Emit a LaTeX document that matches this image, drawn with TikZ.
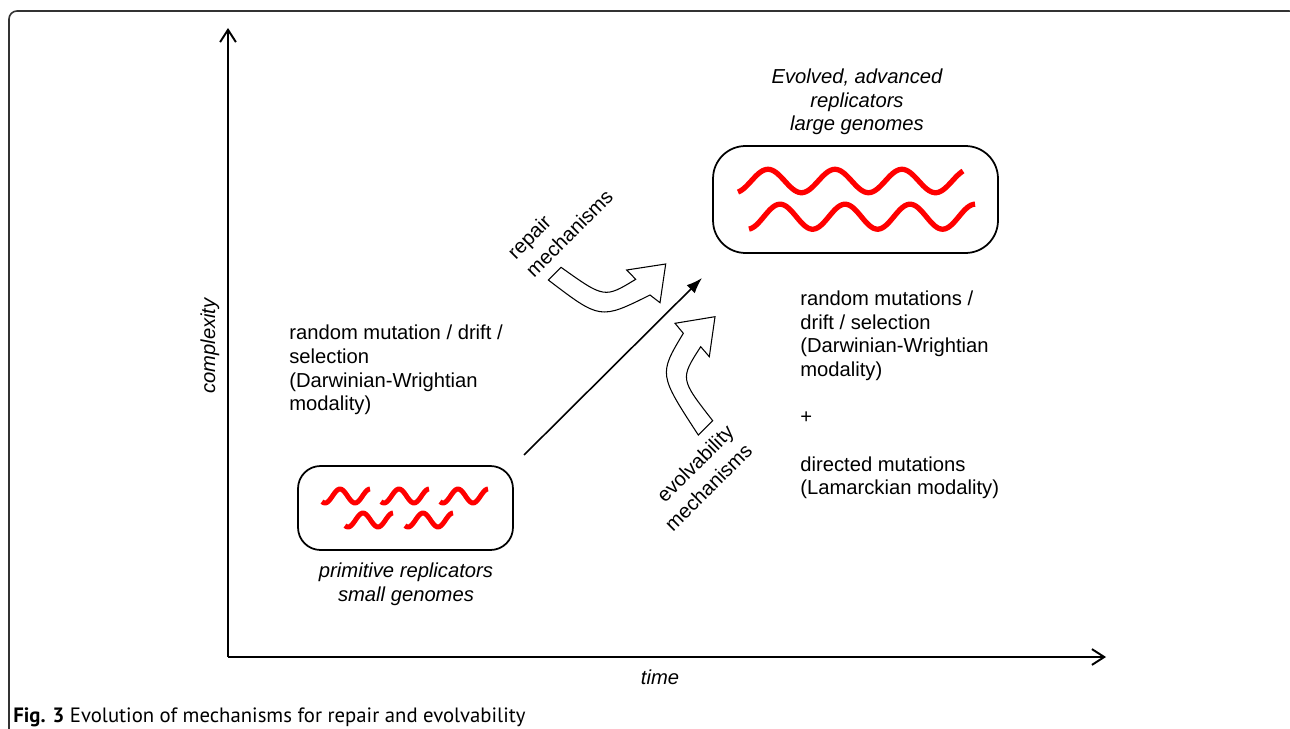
\documentclass[tikz,border=0pt]{standalone}
\usepackage{fontspec}
\setmainfont{Liberation Sans}
\newfontfamily\capfont{PT Sans}
\usetikzlibrary{arrows.meta}

\tikzset{
  axis/.style={line width=1.1pt,-{Straight Barb[length=7pt,width=9pt]}},
  growth/.style={line width=0.9pt,-{Latex[length=9pt,width=6.5pt]}},
  cellbox/.style={draw,line width=1pt,rounded corners=#1},
  wave/.style={draw=red,line width=2.8pt},
  bentarrow/.style={draw,line width=0.6pt,fill=white,line join=miter},
  lbl/.style={font=\fontsize{11.5}{13.45}\selectfont,inner sep=0pt,align=left},
  slant/.style={font=\fontsize{11.5}{14.8}\selectfont,inner sep=0pt,rotate=45},
  tag/.style={font=\fontsize{11.5}{13.45}\selectfont\itshape,inner sep=0pt,align=center}
}

\newcommand{\smallwave}[2]{\draw[wave] plot[domain=-126:450,samples=40,smooth] ({#1+(\x+126)/12},{#2-7*sin(\x)});}

\begin{document}
\begin{tikzpicture}[x=0.02cm,y=-0.02cm]
   \useasboundingbox (0,0) rectangle (1290,729);
   % outer frame
   \draw[black!80,line width=0.9pt,rounded corners=0.16cm] (9,760) -- (9,11) -- (1297,11) -- (1297,760);

   % axes
   \coordinate (origin) at (228,657);
   \coordinate (ytop) at (228,28);
   \coordinate (xend) at (1106,657);
   \draw[axis] (origin) -- (ytop);
   \draw[axis] (origin) -- (xend);
   \node[tag,rotate=90] (ylab) at (210,346) {complexity};
   \node[tag] (xlab) at (660,677) {time};

   % primitive replicators
   \node[cellbox=0.45cm,minimum width=4.3cm,minimum height=1.68cm] (small) at (405.5,508) {};
   \smallwave{322}{496}
   \smallwave{381}{496}
   \smallwave{440}{496}
   \smallwave{345}{520}
   \smallwave{405}{520}
   \node[tag] (smalllab) at (406,584) {primitive replicators\\small genomes};

   % advanced replicators
   \node[cellbox=0.65cm,minimum width=5.7cm,minimum height=2.14cm] (big) at (855.5,199.5) {};
   \draw[wave,line width=3pt] plot[domain=-71:1138,samples=120,smooth] ({738+(\x+71)/360*67},{181-11.7*sin(\x)});
   \draw[wave,line width=3pt] plot[domain=-82:1170,samples=120,smooth] ({749+(\x+82)/360*65},{216.7-12.5*sin(\x)});
   \node[tag] (biglab) at (857,102) {Evolved, advanced\\replicators\\large genomes};

   % progression
   \coordinate (dstart) at (524,455);
   \coordinate (dend) at (702,278);
   \draw[growth] (dstart) -- (dend);

   % repair mechanisms
   \draw[bentarrow] (561,267.3) .. controls (604.5,298.3) .. (635.7,279.3) -- (626.7,270)
     -- (665.7,264) -- (660,302.7) -- (650,295) .. controls (600.3,319.7) .. (548.3,280) -- cycle;
   \node[slant,align=left] (repair) at (560,224) {repair\\mechanisms};

   % evolvability mechanisms
   \draw[bentarrow] (698.3,435) .. controls (658.7,374.3) .. (683.3,333.3) -- (675,323.3)
     -- (715,316.7) -- (709.3,356.7) -- (700.7,346.7) .. controls (680,378.8) .. (712.7,420.7) -- cycle;
   \node[slant,align=right] (evolv) at (699,478) {evolvability\\mechanisms};

   % modalities
   \node[lbl,anchor=west] (before) at (289,370) {random mutation / drift /\\selection\\(Darwinian-Wrightian\\modality)};
   \node[lbl,anchor=west] (after) at (800,395) {random mutations /\\drift / selection\\(Darwinian-Wrightian\\modality)\\[\baselineskip]+\\[\baselineskip]directed mutations\\(Lamarckian modality)};

   % caption
   \node[anchor=west,inner sep=0pt,font=\capfont\fontsize{11.8}{14}\selectfont] (caption) at (13,717) {\textbf{Fig. 3} Evolution of mechanisms for repair and evolvability};
\end{tikzpicture}
\end{document}
